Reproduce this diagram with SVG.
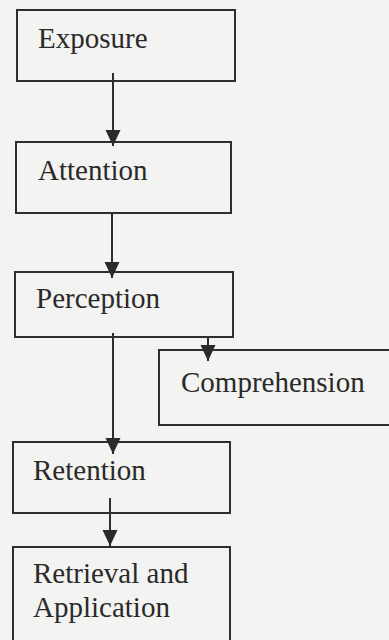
<svg xmlns="http://www.w3.org/2000/svg" width="389" height="640" viewBox="0 0 389 640">
  <style>
    .box { fill: none; stroke: #2e2e2e; stroke-width: 2; }
    .lbl { font-family: "Liberation Serif", "Times New Roman", serif; font-size: 29px; fill: #2a2a2a; }
    .wire { stroke: #2e2e2e; stroke-width: 2; fill: none; }
  </style>
  <defs>
    <marker id="head" markerUnits="userSpaceOnUse" markerWidth="18" markerHeight="18" viewBox="0 0 18 18" refX="16" refY="9" orient="auto">
      <path d="M0,1.5 L16,9 L0,16.5 Z" fill="#2a2a2a"/>
    </marker>
  </defs>
  <rect width="389" height="640" fill="#f3f3f1"/>

  <g id="exposure">
    <rect class="box" x="17" y="10" width="218" height="71"/>
    <text class="lbl" x="38" y="48">Exposure</text>
  </g>
  <g id="attention">
    <rect class="box" x="16" y="142" width="215" height="71"/>
    <text class="lbl" x="38" y="180">Attention</text>
  </g>
  <g id="perception">
    <rect class="box" x="15" y="272" width="218" height="65"/>
    <text class="lbl" x="36" y="308">Perception</text>
  </g>
  <g id="comprehension">
    <rect class="box" x="159" y="350" width="235" height="75"/>
    <text class="lbl" x="181" y="392">Comprehension</text>
  </g>
  <g id="retention">
    <rect class="box" x="13" y="442" width="217" height="71"/>
    <text class="lbl" x="33" y="480">Retention</text>
  </g>
  <g id="retrieval">
    <rect class="box" x="13" y="547" width="217" height="100"/>
    <text class="lbl" x="33" y="583">Retrieval and</text>
    <text class="lbl" x="33" y="617">Application</text>
  </g>

  <g id="connectors">
    <line class="wire" x1="113" y1="73" x2="113" y2="146" marker-end="url(#head)"/>
    <line class="wire" x1="112" y1="213" x2="112" y2="278" marker-end="url(#head)"/>
    <line class="wire" x1="208" y1="337" x2="208" y2="361" marker-end="url(#head)"/>
    <line class="wire" x1="113" y1="333" x2="113" y2="454" marker-end="url(#head)"/>
    <line class="wire" x1="110" y1="498" x2="110" y2="546" marker-end="url(#head)"/>
  </g>
</svg>
